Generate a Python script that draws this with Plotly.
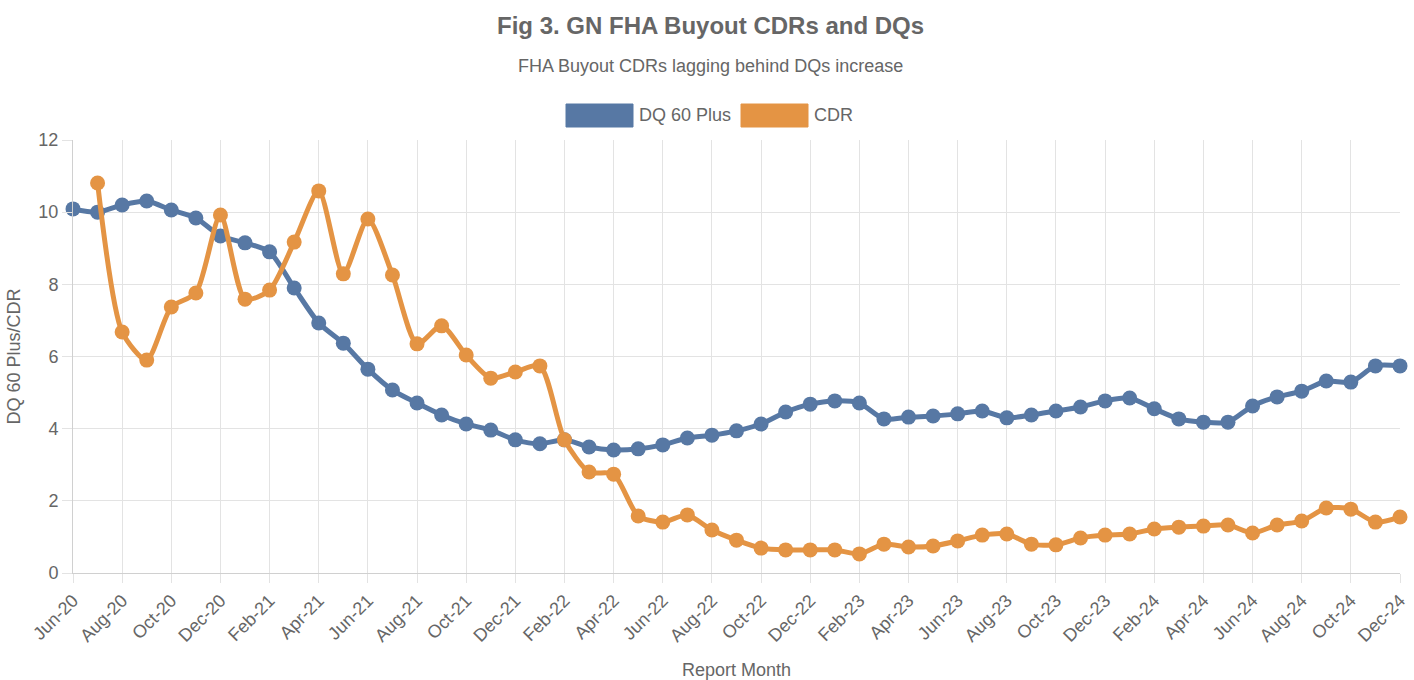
import plotly.graph_objects as go

months = ["Jun-20","Jul-20","Aug-20","Sep-20","Oct-20","Nov-20","Dec-20",
          "Jan-21","Feb-21","Mar-21","Apr-21","May-21","Jun-21","Jul-21","Aug-21","Sep-21","Oct-21","Nov-21","Dec-21",
          "Jan-22","Feb-22","Mar-22","Apr-22","May-22","Jun-22","Jul-22","Aug-22","Sep-22","Oct-22","Nov-22","Dec-22",
          "Jan-23","Feb-23","Mar-23","Apr-23","May-23","Jun-23","Jul-23","Aug-23","Sep-23","Oct-23","Nov-23","Dec-23",
          "Jan-24","Feb-24","Mar-24","Apr-24","May-24","Jun-24","Jul-24","Aug-24","Sep-24","Oct-24","Nov-24","Dec-24"]

dq60_plus = [10.09, 10.00, 10.20, 10.31, 10.06, 9.84, 9.34,
             9.15, 8.90, 7.90, 6.93, 6.37, 5.65, 5.07, 4.71, 4.38, 4.13, 3.96, 3.69,
             3.58, 3.69, 3.49, 3.41, 3.44, 3.55, 3.74, 3.82, 3.94, 4.13, 4.46, 4.68,
             4.77, 4.71, 4.27, 4.32, 4.35, 4.41, 4.49, 4.30, 4.38, 4.49, 4.60, 4.77,
             4.85, 4.55, 4.27, 4.18, 4.18, 4.63, 4.88, 5.04, 5.32, 5.29, 5.74, 5.74]

cdr = [None, 10.81, 6.68, 5.90, 7.37, 7.76, 9.92,
       7.59, 7.84, 9.17, 10.59, 8.29, 9.81, 8.26, 6.35, 6.85, 6.04, 5.40, 5.57,
       5.74, 3.69, 2.80, 2.74, 1.58, 1.41, 1.61, 1.19, 0.91, 0.69, 0.64, 0.64,
       0.64, 0.53, 0.80, 0.72, 0.75, 0.89, 1.05, 1.08, 0.80, 0.78, 0.97, 1.05,
       1.08, 1.22, 1.27, 1.30, 1.33, 1.11, 1.33, 1.44, 1.80, 1.77, 1.41, 1.55]

series_names = ["DQ 60 Plus", "CDR"]
colors = ["#5778a4", "#e49444"]
y_ticks = [0, 2, 4, 6, 8, 10, 12]

FONT = "Liberation Sans, Arial, sans-serif"
GRAY = "#666666"

W, H = 1414, 680
plot_l, plot_r, plot_t, plot_b = 73, 1400, 140, 573


def px_x(x):
    return (x - plot_l) / (plot_r - plot_l)


def px_y(y):
    return (plot_b - y) / (plot_b - plot_t)


fig = go.Figure()
for name, vals, col in zip(series_names, [dq60_plus, cdr], colors):
    fig.add_trace(go.Scatter(
        x=months, y=vals, name=name, mode="lines+markers",
        line=dict(color=col, width=5, shape="spline", smoothing=0.7),
        marker=dict(color=col, size=15),
        cliponaxis=False, connectgaps=False, showlegend=False,
    ))

# custom legend boxes (Chart.js style)
leg_x = [566, 741]
leg_w = 67
shapes = []
annotations = []
for name, col, lx in zip(series_names, colors, leg_x):
    shapes.append(dict(type="rect", xref="paper", yref="paper",
                       x0=px_x(lx), x1=px_x(lx + leg_w),
                       y0=px_y(127), y1=px_y(104),
                       fillcolor=col, line=dict(color=col, width=1)))
    annotations.append(dict(text=name, xref="paper", yref="paper", showarrow=False,
                            x=px_x(lx + leg_w + 4), xanchor="left",
                            y=px_y(115.5), yanchor="middle",
                            font=dict(family=FONT, size=18, color=GRAY)))

annotations.append(dict(text="<b>Fig 3. GN FHA Buyout CDRs and DQs</b>",
                        xref="paper", yref="paper", showarrow=False,
                        x=px_x(710), xanchor="center", y=px_y(25), yanchor="middle",
                        font=dict(family=FONT, size=24, color=GRAY)))
annotations.append(dict(text="FHA Buyout CDRs lagging behind DQs increase",
                        xref="paper", yref="paper", showarrow=False,
                        x=px_x(710), xanchor="center", y=px_y(66), yanchor="middle",
                        font=dict(family=FONT, size=18, color=GRAY)))

fig.update_layout(
    width=W, height=H,
    margin=dict(l=plot_l, r=W - plot_r, t=plot_t, b=H - plot_b, autoexpand=False),
    paper_bgcolor="white", plot_bgcolor="white",
    shapes=shapes,
    annotations=annotations,
    font=dict(family=FONT, color=GRAY),
)
fig.update_xaxes(
    type="category", range=[0, len(months) - 1], automargin=False,
    tickvals=months[::2], ticktext=months[::2], tickangle=-45,
    tickfont=dict(family=FONT, size=18, color=GRAY),
    showgrid=True, gridcolor="#e3e3e3", gridwidth=1,
    ticks="outside", ticklen=9, tickcolor="#e3e3e3",
    showline=True, linecolor="#d0d0d0",
    title=dict(text="Report Month", font=dict(family=FONT, size=18, color=GRAY), standoff=18),
)
fig.update_yaxes(
    range=[0, 12], tickvals=y_ticks, automargin=False,
    tickfont=dict(family=FONT, size=18, color=GRAY),
    showgrid=True, gridcolor="#e3e3e3", gridwidth=1,
    zeroline=True, zerolinecolor="#d0d0d0",
    showline=True, linecolor="#d0d0d0",
    ticks="outside", ticklen=10, tickcolor="#e3e3e3",
    title=dict(text="DQ 60 Plus/CDR", font=dict(family=FONT, size=18, color=GRAY), standoff=13),
)

fig.write_html("out.html", config={"displayModeBar": False},
               post_script="document.body.style.margin='0';")
